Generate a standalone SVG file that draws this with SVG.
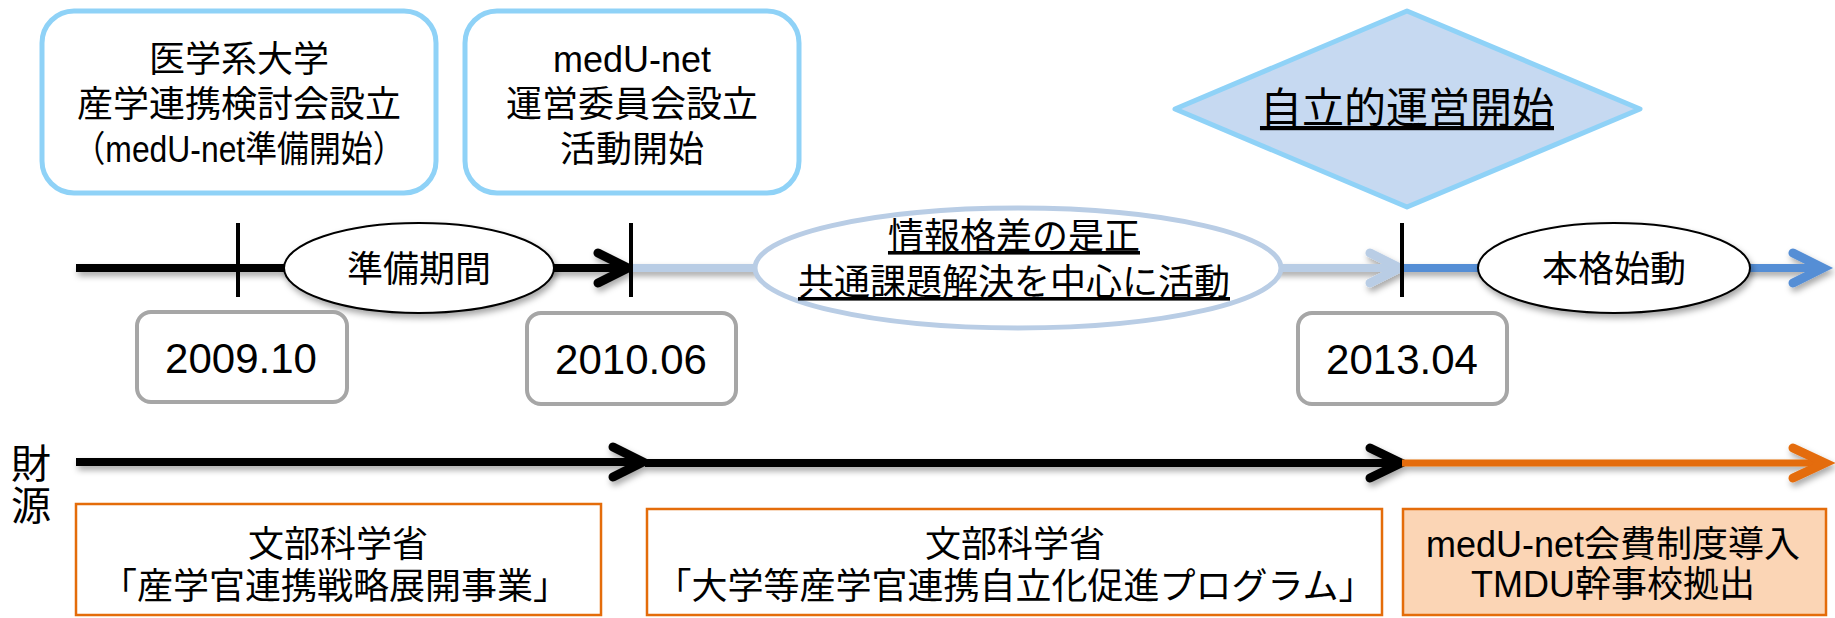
<svg xmlns="http://www.w3.org/2000/svg" width="1835" height="618" viewBox="0 0 1835 618">
<style>
.t{font-family:"Liberation Sans","Noto Sans CJK JP",sans-serif;fill:#000;text-anchor:middle}
.f36{font-size:36px}
.f42{font-size:42px}
.ev{fill:none;stroke:#8fd2f7;stroke-width:5}
.date{fill:#fff;stroke:#a6a6a6;stroke-width:4}
.fund{fill:#fff;stroke:#e46c0a;stroke-width:2.5}
.ln{fill:none;stroke-linecap:butt}
.chev{fill:none;stroke-linecap:round;stroke-linejoin:miter}
</style>
<defs>
<filter id="sh" x="-10%" y="-40%" width="120%" height="200%">
<feDropShadow dx="2" dy="4" stdDeviation="3" flood-color="#000" flood-opacity="0.35"/>
</filter>
</defs>

<g id="connectors">
<g filter="url(#sh)">
<line class="ln" x1="76" y1="268" x2="626" y2="268" stroke="#000" stroke-width="8"/>
<polyline class="chev" points="598,253 628,268 598,283" stroke="#000" stroke-width="9"/>
<line class="ln" x1="631" y1="268" x2="1398" y2="268" stroke="#b9cde5" stroke-width="8"/>
<polyline class="chev" points="1370,253 1400,268 1370,283" stroke="#b9cde5" stroke-width="9"/>
<line class="ln" x1="1402" y1="268" x2="1820" y2="268" stroke="#558ed5" stroke-width="8"/>
<polyline class="chev" points="1793,253 1823,268 1793,283" stroke="#558ed5" stroke-width="9"/>
</g>
<line x1="238" y1="223" x2="238" y2="297" stroke="#000" stroke-width="4"/>
<line x1="631" y1="223" x2="631" y2="297" stroke="#000" stroke-width="4"/>
<line x1="1402" y1="223" x2="1402" y2="297" stroke="#000" stroke-width="4"/>
<g filter="url(#sh)">
<line class="ln" x1="76" y1="462" x2="641" y2="462" stroke="#000" stroke-width="8"/>
<polyline class="chev" points="613,447 643,462 613,477" stroke="#000" stroke-width="9"/>
<line class="ln" x1="645" y1="463" x2="1399" y2="463" stroke="#000" stroke-width="8"/>
<polyline class="chev" points="1370,448 1401,463 1370,478" stroke="#000" stroke-width="9"/>
<line class="ln" x1="1402" y1="463" x2="1822" y2="463" stroke="#e46c0a" stroke-width="7"/>
<polyline class="chev" points="1793,448 1825,463 1793,478" stroke="#e46c0a" stroke-width="9"/>
</g>
</g>

<g id="ev1">
<rect class="ev" x="42" y="11" width="394" height="182" rx="32" ry="32" fill="#fff"/>
<text class="t f36" x="239" y="72">医学系大学</text>
<text class="t f36" x="239" y="117">産学連携検討会設立</text>
<text class="t f36" x="239" y="162" textLength="331" lengthAdjust="spacingAndGlyphs">（medU-net準備開始）</text>
</g>

<g id="ev2">
<rect class="ev" x="465" y="11" width="334" height="182" rx="32" ry="32" fill="#fff"/>
<text class="t f36" x="632" y="72">medU-net</text>
<text class="t f36" x="632" y="117">運営委員会設立</text>
<text class="t f36" x="632" y="162">活動開始</text>
</g>

<g id="ev3">
<polygon points="1407,11 1640,109 1407,207 1175,109" fill="#c6d9f1" stroke="#8fd2f7" stroke-width="5" stroke-linejoin="round"/>
<text class="t f42" x="1407" y="123" text-decoration="underline">自立的運営開始</text>
</g>

<g id="phase1">
<ellipse cx="419" cy="268" rx="135" ry="45" fill="#fff" stroke="#000" stroke-width="2" filter="url(#sh)"/>
<text class="t f36" x="419" y="282">準備期間</text>
</g>

<g id="phase2">
<ellipse cx="1018" cy="268" rx="263" ry="60" fill="#fff" stroke="#b9cde5" stroke-width="5"/>
<text class="t f36" x="1014" y="249" text-decoration="underline">情報格差の是正</text>
<text class="t f36" x="1014" y="295" text-decoration="underline">共通課題解決を中心に活動</text>
</g>

<g id="phase3">
<ellipse cx="1614" cy="268" rx="136" ry="45" fill="#fff" stroke="#000" stroke-width="2" filter="url(#sh)"/>
<text class="t f36" x="1614" y="282">本格始動</text>
</g>

<g id="d1">
<rect class="date" x="137" y="312" width="210" height="90" rx="14" ry="14"/>
<text class="t f42" x="241" y="373">2009.10</text>
</g>
<g id="d2">
<rect class="date" x="527" y="313" width="209" height="91" rx="14" ry="14"/>
<text class="t f42" x="631" y="374">2010.06</text>
</g>
<g id="d3">
<rect class="date" x="1298" y="313" width="209" height="91" rx="14" ry="14"/>
<text class="t f42" x="1402" y="374">2013.04</text>
</g>

<g id="label">
<text class="t" style="font-size:40px" x="31" y="478">財</text>
<text class="t" style="font-size:40px" x="31" y="520">源</text>
</g>

<g id="f1">
<rect class="fund" x="76" y="504" width="525" height="111"/>
<text class="t f36" x="338" y="557">文部科学省</text>
<text class="t f36" x="335" y="599">「産学官連携戦略展開事業」</text>
</g>
<g id="f2">
<rect class="fund" x="647" y="509" width="735" height="106"/>
<text class="t f36" x="1015" y="557">文部科学省</text>
<text class="t f36" x="1015" y="599">「大学等産学官連携自立化促進プログラム」</text>
</g>
<g id="f3">
<rect class="fund" x="1403" y="509" width="423" height="106" style="fill:#fbd5b5"/>
<text class="t f36" x="1613" y="557">medU-net会費制度導入</text>
<text class="t f36" x="1613" y="597">TMDU幹事校拠出</text>
</g>
</svg>
